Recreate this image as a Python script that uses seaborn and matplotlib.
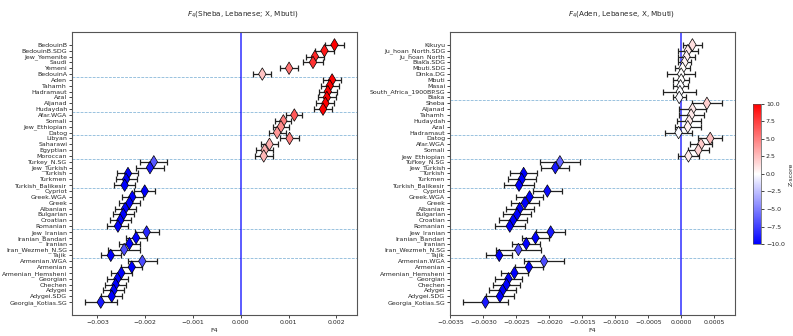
import numpy as np
import pandas as pd
import matplotlib
matplotlib.use("Agg")
import matplotlib.pyplot as plt
import seaborn as sns
from matplotlib.colors import Normalize
from matplotlib.cm import ScalarMappable

# ---------------- data: left panel  F4(Sheba, Lebanese; X, Mbuti) ----------------
left_pops = ["BedouinB", "BedouinB.SDG", "Jew_Yemenite", "Saudi", "Yemeni", "BedouinA",
             "Aden", "Tahamh", "Hadramaut", "Azal", "Aljanad", "Hudaydah",
             "Afar.WGA", "Somali", "Jew_Ethiopian", "Datog",
             "Libyan", "Saharawi", "Egyptian", "Moroccan",
             "Turkey_N.SG", "Jew_Turkish", "Turkish", "Turkmen", "Turkish_Balikesir",
             "Cypriot", "Greek.WGA", "Greek", "Albanian", "Bulgarian", "Croatian", "Romanian",
             "Jew_Iranian", "Iranian_Bandari", "Iranian", "Iran_Wezmeh_N.SG", "Tajik",
             "Armenian.WGA", "Armenian", "Armenian_Hemsheni", "Georgian", "Chechen", "Adygei",
             "Adygei.SDG", "Georgia_Kotias.SG"]
left_f4 = [0.00196, 0.00175, 0.00155, 0.00151, 0.00101, 0.00045,
           0.00191, 0.00186, 0.00182, 0.00180, 0.00177, 0.00172,
           0.00112, 0.00089, 0.00084, 0.00076,
           0.00102, 0.00060, 0.00050, 0.00048,
           -0.00182, -0.00190, -0.00236, -0.00240, -0.00243,
           -0.00201, -0.00227, -0.00233, -0.00242, -0.00246, -0.00252, -0.00257,
           -0.00197, -0.00219, -0.00233, -0.00244, -0.00272,
           -0.00206, -0.00228, -0.00250, -0.00258, -0.00262, -0.00266,
           -0.00270, -0.00293]
left_se = [0.00020, 0.00019, 0.00019, 0.00020, 0.00019, 0.00019,
           0.00019, 0.00019, 0.00019, 0.00019, 0.00019, 0.00019,
           0.00017, 0.00017, 0.00017, 0.00018,
           0.00020, 0.00018, 0.00018, 0.00019,
           0.00028, 0.00030, 0.00022, 0.00022, 0.00022,
           0.00022, 0.00022, 0.00022, 0.00022, 0.00022, 0.00022, 0.00022,
           0.00025, 0.00022, 0.00022, 0.00033, 0.00021,
           0.00030, 0.00022, 0.00022, 0.00022, 0.00022, 0.00022,
           0.00022, 0.00033]
left_z = [10, 9, 8.5, 8, 5.5, 2.3,
          10, 10, 10, 10, 10, 10,
          6.5, 5, 4.5, 4,
          5, 3.2, 3, 2.8,
          -6.5, -9, -11, -11, -11,
          -10, -10, -11, -11, -11, -11, -11,
          -8.5, -10, -11, -7, -12,
          -7, -11, -11, -11, -11, -11,
          -11, -9]
left_group_ends = ["BedouinA", "Hudaydah", "Datog", "Moroccan",
                   "Turkish_Balikesir", "Romanian", "Tajik"]

# ---------------- data: right panel  F4(Aden, Lebanese, X, Mbuti) ----------------
right_pops = ["Kikuyu", "Ju_hoan_North.SDG", "Ju_hoan_North", "Biaka.SDG", "Mbuti.SDG",
              "Dinka.DG", "Mbuti", "Masai", "South_Africa_1900BP.SG", "Biaka",
              "Sheba", "Aljanad", "Tahamh", "Hudaydah", "Azal", "Hadramaut",
              "Datog", "Afar.WGA", "Somali", "Jew_Ethiopian",
              "Turkey_N.SG", "Jew_Turkish", "Turkish", "Turkmen", "Turkish_Balikesir",
              "Cypriot", "Greek.WGA", "Greek", "Albanian", "Bulgarian", "Croatian", "Romanian",
              "Jew_Iranian", "Iranian_Bandari", "Iranian", "Iran_Wezmeh_N.SG", "Tajik",
              "Armenian.WGA", "Armenian", "Armenian_Hemsheni", "Georgian", "Chechen", "Adygei",
              "Adygei.SDG", "Georgia_Kotias.SG"]
right_f4 = [0.00017, 0.00010, 0.00008, 0.00005, 0.00002,
            0.00000, 0.00000, -0.00001, -0.00002, -0.00003,
            0.00039, 0.00017, 0.00015, 0.00012, 0.00010, -0.00004,
            0.00044, 0.00030, 0.00026, 0.00011,
            -0.00184, -0.00191, -0.00239, -0.00242, -0.00246,
            -0.00203, -0.00230, -0.00237, -0.00245, -0.00249, -0.00255, -0.00260,
            -0.00198, -0.00221, -0.00235, -0.00247, -0.00276,
            -0.00208, -0.00231, -0.00253, -0.00262, -0.00265, -0.00271,
            -0.00275, -0.00297]
right_se = [0.00015, 0.00015, 0.00013, 0.00010, 0.00011,
            0.00021, 0.00012, 0.00012, 0.00025, 0.00010,
            0.00023, 0.00020, 0.00019, 0.00018, 0.00020, 0.00020,
            0.00018, 0.00017, 0.00016, 0.00016,
            0.00030, 0.00021, 0.00021, 0.00021, 0.00023,
            0.00022, 0.00021, 0.00021, 0.00021, 0.00021, 0.00021, 0.00023,
            0.00022, 0.00020, 0.00021, 0.00034, 0.00020,
            0.00030, 0.00021, 0.00021, 0.00021, 0.00021, 0.00021,
            0.00021, 0.00034]
right_z = [1.3, 0.8, 0.6, 0.4, 0.1,
           0.0, 0.0, -0.1, -0.1, -0.2,
           1.8, 1.0, 0.9, 0.8, 0.6, -0.2,
           2.5, 2.0, 1.7, 0.8,
           -6, -9, -11, -11, -11,
           -9.5, -11, -11, -11, -11, -11, -11,
           -9, -11, -11, -7, -12,
           -7, -11, -11, -11, -11, -11,
           -11, -9]
right_group_ends = ["Biaka", "Hadramaut", "Jew_Ethiopian",
                    "Turkish_Balikesir", "Romanian", "Tajik"]

left_title = "$F_4$(Sheba, Lebanese; X, Mbuti)"
right_title = "$F_4$(Aden, Lebanese, X, Mbuti)"

# ---------------- plotting ----------------
sns.set_style("ticks")
plt.rcParams["font.family"] = ["DejaVu Sans"]
plt.rcParams["axes.edgecolor"] = "#555555"
plt.rcParams["axes.linewidth"] = 0.8

fig = plt.figure(figsize=(7.93, 3.36), dpi=100)
ax_l = fig.add_axes([0.0908, 0.0625, 0.3594, 0.8423])
ax_r = fig.add_axes([0.5675, 0.0625, 0.3594, 0.8423])
cax = fig.add_axes([0.9496, 0.2738, 0.0101, 0.4167])

norm = Normalize(-10, 10)
fs = 4.5


def draw(ax, pops, f4, se, z, group_ends):
    df = pd.DataFrame({"pop": pops, "f4": f4, "se": se, "z": z})
    df["pos"] = np.arange(len(df))
    ax.errorbar(df["f4"], df["pos"], xerr=df["se"], fmt="none", ecolor="#222222",
                elinewidth=0.9, capsize=2.0, capthick=0.9, zorder=2)
    sns.scatterplot(data=df, x="f4", y="pos", hue="z", palette="bwr", hue_norm=norm,
                    marker="d", s=40, edgecolor="black", linewidth=0.5,
                    legend=False, ax=ax, zorder=3)
    ax.axvline(0, color="blue", lw=1.2, alpha=0.75, zorder=1)
    for g in group_ends:
        y = df.loc[df["pop"] == g, "pos"].iloc[0] + 0.5
        ax.axhline(y, color="#7fb2d6", ls="--", lw=0.55, zorder=0)
    ax.set_yticks(df["pos"])
    ax.set_yticklabels(df["pop"])
    ax.invert_yaxis()
    ax.set_ylabel("")
    ax.set_xlabel("F4", fontsize=fs, labelpad=2)
    ax.tick_params(axis="both", labelsize=fs, length=2, width=0.6, pad=1.5)
    for sp in ax.spines.values():
        sp.set_visible(True)


draw(ax_l, left_pops, left_f4, left_se, left_z, left_group_ends)
draw(ax_r, right_pops, right_f4, right_se, right_z, right_group_ends)

fig.text(243 / 793, 1 - 14 / 336, left_title, ha="center", va="center", fontsize=5.2)
fig.text(622 / 793, 1 - 14 / 336, right_title, ha="center", va="center", fontsize=5.2)

sm = ScalarMappable(norm=norm, cmap="bwr")
cb = fig.colorbar(sm, cax=cax)
cb.set_label("Z-score", fontsize=fs, labelpad=3)
cb.ax.tick_params(labelsize=fs, length=2, width=0.6, pad=1.5)
cb.outline.set_linewidth(0.5)

fig.savefig("out.png", dpi=100)
